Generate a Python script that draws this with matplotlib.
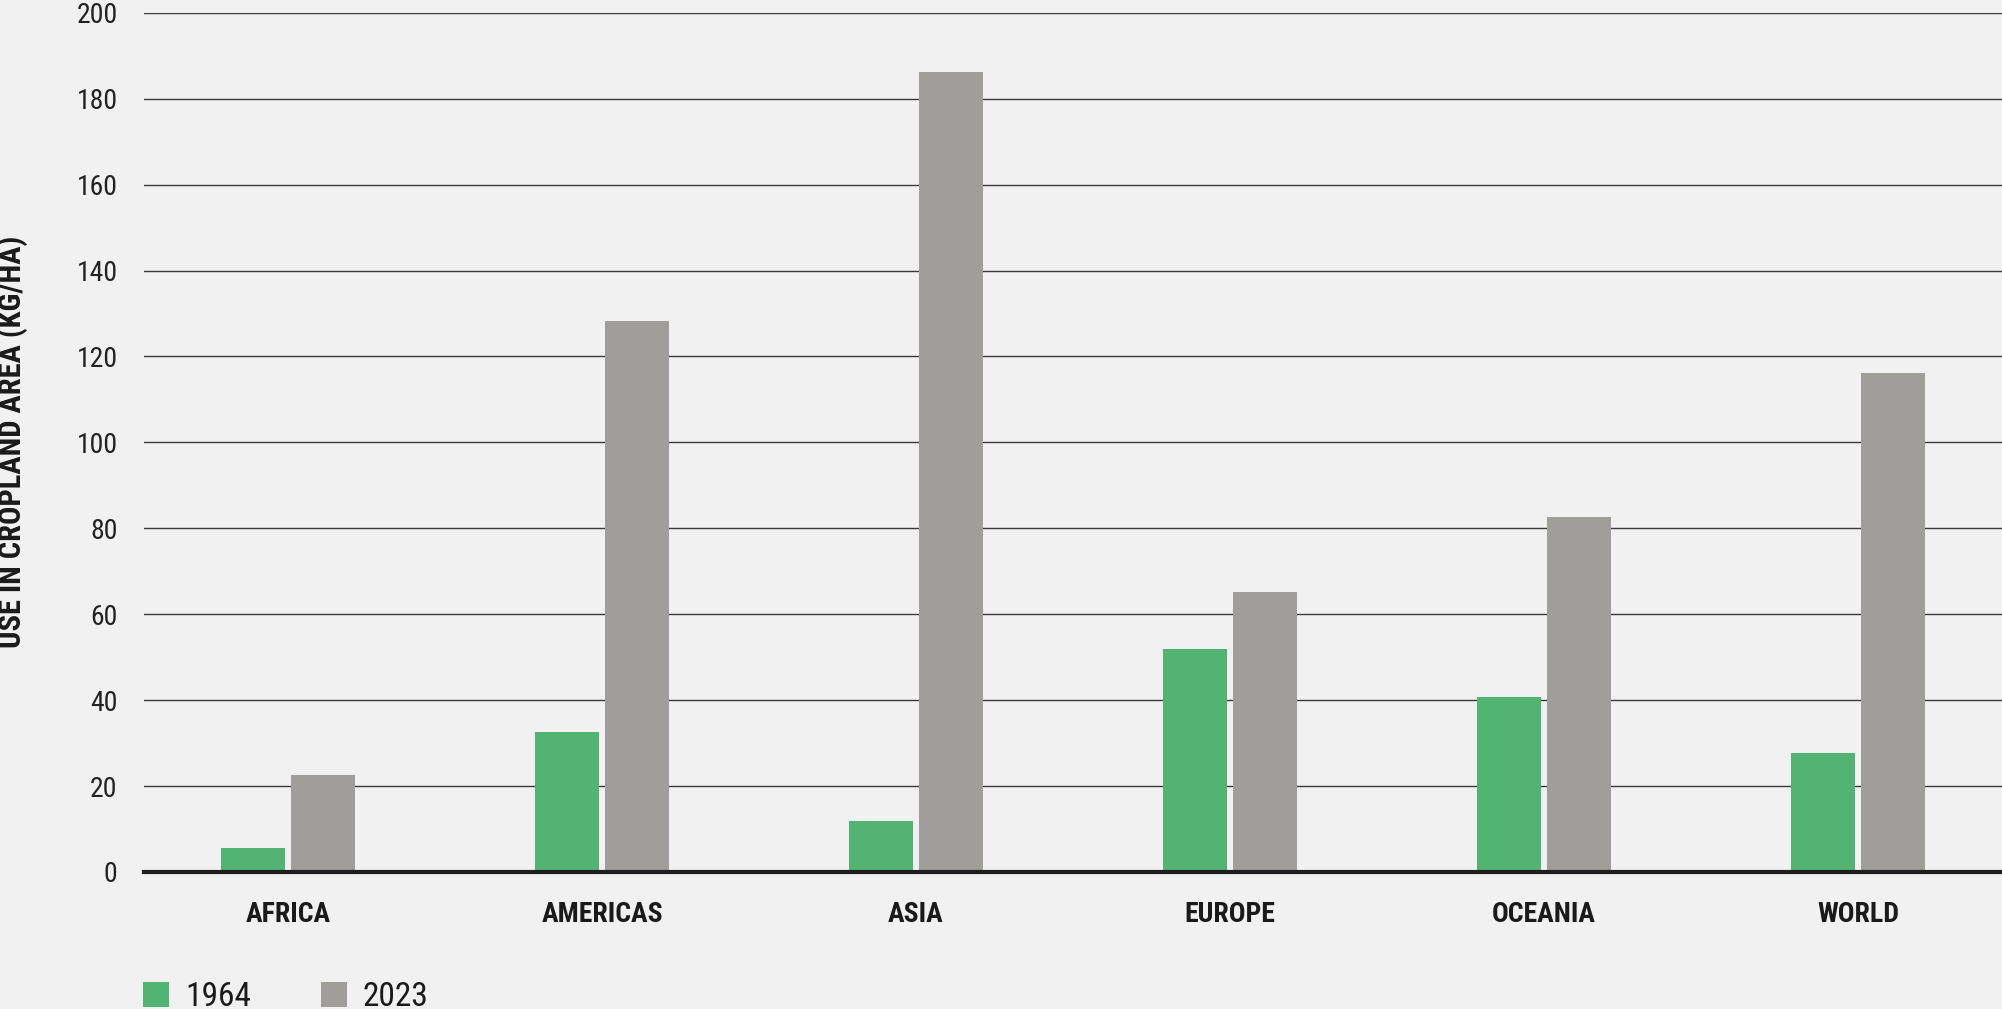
import numpy as np
import matplotlib
matplotlib.use("Agg")
import matplotlib.pyplot as plt
from matplotlib import font_manager

# data
regions = ["AFRICA", "AMERICAS", "ASIA", "EUROPE", "OCEANIA", "WORLD"]
use_1964 = [5.6, 32.6, 11.9, 51.8, 40.8, 27.6]
use_2023 = [22.6, 128.3, 186.2, 65.1, 82.6, 116.2]
y_ticks = [0, 20, 40, 60, 80, 100, 120, 140, 160, 180, 200]

# pick a narrow font if there is one
names = set(f.name for f in font_manager.fontManager.ttflist)
family = "DejaVu Sans"
for cand in ["Liberation Sans Narrow", "Roboto Condensed", "DejaVu Sans Condensed", "Liberation Sans"]:
    if cand in names:
        family = cand
        break
plt.rcParams["font.family"] = family

bg = "#f1f1f1"
green = "#52b372"
grey = "#a09e9b"

fig = plt.figure(figsize=(20.02, 10.09), dpi=100, facecolor=bg)
ax = fig.add_axes([144 / 2002, 1 - 872 / 1009, 1 - 144 / 2002, (872 - 12.8) / 1009])
ax.set_facecolor(bg)

x = np.arange(len(regions))
w = 0.204
off = 0.1115
b1 = ax.bar(x - off, use_1964, w, color=green, label="1964", zorder=3)
b2 = ax.bar(x + off, use_2023, w, color=grey, label="2023", zorder=3)

ax.set_xlim(-0.459, len(regions) - 1 + 0.459)
ax.set_ylim(0, 200)
ax.set_yticks(y_ticks)
ax.set_yticklabels([str(t) for t in y_ticks], fontsize=20, color="#222222")
ax.set_xticks(x)
ax.set_xticklabels(regions, fontsize=20, fontweight="bold", color="#1a1a1a")
ax.tick_params(axis="y", length=0, pad=19)
ax.tick_params(axis="x", length=0, pad=21)

for t in y_ticks[1:]:
    ax.axhline(t, color="#3a3a3a", linewidth=1.0, zorder=1)
ax.axhline(0, color="#1e1e1e", linewidth=3.0, zorder=4, clip_on=False)

for s in ax.spines.values():
    s.set_visible(False)

fig.text(12 / 2002, 1 - 442 / 1009, "USE IN CROPLAND AREA (KG/HA)", rotation=90,
         fontsize=22, fontweight="bold", color="#1a1a1a", ha="center", va="center")

leg = fig.legend(handles=[b1, b2], loc="upper left",
                 bbox_to_anchor=(143 / 2002, 1 - 981 / 1009), ncol=2, frameon=False,
                 fontsize=24, handlelength=0.78, handleheight=0.78,
                 handletextpad=0.48, columnspacing=2.1, borderpad=0, borderaxespad=0)
for t in leg.get_texts():
    t.set_color("#1a1a1a")

fig.savefig("out.png", dpi=100, facecolor=bg)
